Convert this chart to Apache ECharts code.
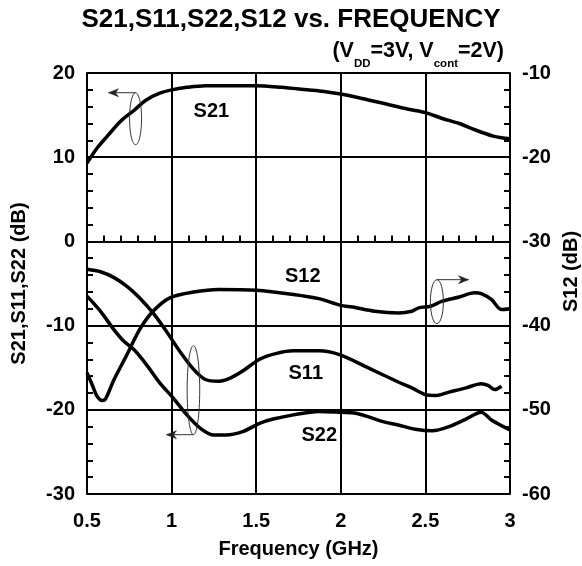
<!DOCTYPE html>
<html>
<head>
<meta charset="utf-8">
<script src="https://cdn.jsdelivr.net/npm/echarts@6/dist/echarts.min.js"></script>
<style>
html,body{margin:0;padding:0;background:#fff;}
#chart{width:582px;height:566px;}
</style>
</head>
<body>
<div id="chart"></div>
<script>
// ---- data ----
const freqTicks = [0.5, 1, 1.5, 2, 2.5, 3];
const leftTicks = [-30, -20, -10, 0, 10, 20];
const rightTicks = [-60, -50, -40, -30, -20, -10];

const s21Freq = [0.5,0.56,0.62,0.7,0.78,0.85,0.93,1.0,1.09,1.2,1.35,1.5,1.65,1.8,1.9,2.0,2.1,2.25,2.4,2.5,2.6,2.7,2.8,2.9,2.95,3.0];
const s21 =     [9.3,11.1,12.5,14.3,15.6,16.8,17.6,18.0,18.3,18.5,18.5,18.5,18.3,18.0,17.8,17.5,17.1,16.4,15.7,15.3,14.6,14.0,13.2,12.5,12.3,12.2];

const s11Freq = [0.5,0.58,0.66,0.74,0.81,0.89,0.97,1.05,1.13,1.2,1.28,1.35,1.42,1.52,1.62,1.72,1.87,2.0,2.15,2.34,2.42,2.5,2.56,2.64,2.74,2.83,2.87,2.91,2.95];
const s11 =     [-3.3,-3.6,-4.3,-5.4,-6.7,-8.5,-10.7,-13.1,-15.2,-16.4,-16.6,-16.2,-15.4,-14.0,-13.3,-13.0,-13.0,-13.5,-14.9,-16.7,-17.4,-18.2,-18.3,-17.9,-17.4,-16.9,-17.1,-17.6,-17.2];

const s22Freq = [0.5,0.58,0.66,0.72,0.78,0.85,0.93,1.01,1.09,1.17,1.25,1.32,1.42,1.52,1.6,1.72,1.87,2.0,2.09,2.25,2.34,2.44,2.54,2.64,2.74,2.83,2.89,3.0];
const s22 =     [-6.5,-8.3,-10.5,-11.9,-12.9,-14.6,-16.8,-18.6,-20.6,-22.2,-23.0,-23.0,-22.6,-21.6,-21.1,-20.6,-20.2,-20.3,-20.4,-21.4,-21.8,-22.3,-22.5,-22.0,-21.1,-20.3,-21.2,-22.4];

const s12Freq = [0.5,0.53,0.56,0.59,0.61,0.66,0.735,0.81,0.89,0.99,1.13,1.28,1.5,1.72,1.87,2.0,2.07,2.2,2.34,2.42,2.46,2.53,2.6,2.7,2.79,2.83,2.89,2.95,3.0];
const s12 =     [-45.6,-47.0,-48.4,-48.9,-48.7,-46.4,-43.5,-40.5,-38.3,-36.7,-36.0,-35.7,-35.8,-36.3,-36.8,-37.6,-37.8,-38.3,-38.5,-38.3,-37.9,-37.7,-37.1,-36.6,-36.1,-36.2,-36.9,-38.1,-38.0];

// curve labels: [text, freq, value, axisIndex]
const curveLabels = [
  ['S21', 1.235, 15.44, 0],
  ['S12', 1.775, -34.19, 1],
  ['S11', 1.793, -15.71, 0],
  ['S22', 1.873, -23.02, 0]
];
// ellipse markers: [freq, value, axisIndex, arrow target freq, arrow at top?]
const markers = [
  [0.787, 14.57, 0, 0.627, true],
  [1.129, -17.67, 0, 0.97, false],
  [2.568, -37.16, 1, 2.755, true]
];

const FONT = "'Liberation Sans', Arial, Helvetica, sans-serif";
const zip = (xs, ys) => xs.map((x, i) => [x, ys[i]]);

const chart = echarts.init(document.getElementById('chart'), null, {renderer: 'canvas'});

const lineSeries = (name, data, yIdx) => ({
  name, type: 'line', yAxisIndex: yIdx, data, smooth: 0.3, showSymbol: false,
  lineStyle: {color: '#000', width: 3.5}, z: 5, animation: false
});

chart.setOption({
  animation: false,
  backgroundColor: '#fff',
  title: [
    {text: 'S21,S11,S22,S12 vs. FREQUENCY', left: 'center', top: 7, padding: 0,
     textStyle: {fontFamily: FONT, fontWeight: 'bold', fontSize: 26, color: '#000'}},
    {text: '{a|(V}{s|DD}{a|=3V, V}{s|cont}{a|=2V)}', right: 78, top: 40, padding: 0,
     textStyle: {rich: {
       a: {fontFamily: FONT, fontWeight: 'bold', fontSize: 21.5, lineHeight: 24, verticalAlign: 'top', color: '#000'},
       s: {fontFamily: FONT, fontWeight: 'bold', fontSize: 11.5, lineHeight: 12, padding: [18, 0, 0, 0], verticalAlign: 'top', color: '#000'}
     }}}
  ],
  grid: {left: 87, right: 72, top: 73, bottom: 72, containLabel: false, outerBoundsMode: 'none'},
  xAxis: {
    type: 'value', min: freqTicks[0], max: freqTicks[freqTicks.length - 1], interval: 0.5,
    name: 'Frequency (GHz)', nameLocation: 'middle', nameGap: 45,
    nameTextStyle: {fontFamily: FONT, fontWeight: 'bold', fontSize: 20, color: '#000'},
    axisLine: {show: true, lineStyle: {color: '#000', width: 2}},
    axisTick: {show: true, inside: true, length: 6, lineStyle: {color: '#000', width: 2}},
    minorTick: {show: true, splitNumber: 5, length: 6, lineStyle: {color: '#000', width: 2}},
    splitLine: {show: true, lineStyle: {color: '#000', width: 2}},
    axisLabel: {fontFamily: FONT, fontWeight: 'bold', fontSize: 20, color: '#000', margin: 17}
  },
  yAxis: [
    {
      type: 'value', min: leftTicks[0], max: leftTicks[leftTicks.length - 1], interval: 10, position: 'left',
      name: 'S21,S11,S22 (dB)', nameLocation: 'middle', nameRotate: 90, nameGap: 58,
      nameTextStyle: {fontFamily: FONT, fontWeight: 'bold', fontSize: 20, color: '#000'},
      axisLine: {show: true, lineStyle: {color: '#000', width: 2}},
      axisTick: {show: true, inside: true, length: 6, lineStyle: {color: '#000', width: 2}},
      minorTick: {show: true, splitNumber: 5, length: 6, lineStyle: {color: '#000', width: 2}},
      splitLine: {show: true, lineStyle: {color: '#000', width: 2}},
      axisLabel: {fontFamily: FONT, fontWeight: 'bold', fontSize: 20, color: '#000', margin: 12}
    },
    {
      type: 'value', min: rightTicks[0], max: rightTicks[rightTicks.length - 1], interval: 10, position: 'right',
      name: 'S12 (dB)', nameLocation: 'middle', nameRotate: 90, nameGap: 48,
      nameTextStyle: {fontFamily: FONT, fontWeight: 'bold', fontSize: 20, color: '#000', padding: [0, 0, 0, 24]},
      axisLine: {show: true, lineStyle: {color: '#000', width: 2}},
      axisTick: {show: true, inside: true, length: 6, lineStyle: {color: '#000', width: 2}},
      minorTick: {show: true, splitNumber: 5, length: 6, lineStyle: {color: '#000', width: 2}},
      splitLine: {show: false},
      axisLabel: {fontFamily: FONT, fontWeight: 'bold', fontSize: 20, color: '#000', margin: 12}
    }
  ],
  series: [
    lineSeries('S21', zip(s21Freq, s21), 0),
    lineSeries('S11', zip(s11Freq, s11), 0),
    lineSeries('S22', zip(s22Freq, s22), 0),
    lineSeries('S12', zip(s12Freq, s12), 1)
  ]
});

// annotations placed through the chart's own scales
function px(f, v, yIdx) {
  return chart.convertToPixel({xAxisIndex: 0, yAxisIndex: yIdx}, [f, v]);
}
const graphics = [];
curveLabels.forEach(([t, f, v, yi]) => {
  const p = px(f, v, yi);
  graphics.push({type: 'text', x: p[0], y: p[1], z: 20,
    style: {text: t, fontFamily: FONT, fontWeight: 'bold', fontSize: 20, fill: '#000', align: 'center', verticalAlign: 'middle'}});
});
const ellipseSize = [[6, 26], [6.3, 44.5], [6.5, 22]];
markers.forEach(([f, v, yi, tf, top], i) => {
  const c = px(f, v, yi);
  const [rx, ry] = ellipseSize[i];
  graphics.push({type: 'ellipse', z: 20, shape: {cx: c[0], cy: c[1], rx, ry},
    style: {fill: null, stroke: '#333', lineWidth: 1}});
  const y = top ? c[1] - ry : c[1] + ry;
  const tx = px(tf, v, yi)[0];
  graphics.push({type: 'line', z: 20, shape: {x1: c[0], y1: y, x2: tx, y2: y},
    style: {stroke: '#333', lineWidth: 1}});
  const dir = tx < c[0] ? -1 : 1;
  graphics.push({type: 'polygon', z: 20, shape: {points: [
      [tx, y], [tx - dir * 10, y - 4], [tx - dir * 7, y], [tx - dir * 10, y + 4]]},
    style: {fill: '#222', stroke: '#222', lineWidth: 0.5}});
});
chart.setOption({graphic: graphics});
</script>
</body>
</html>
